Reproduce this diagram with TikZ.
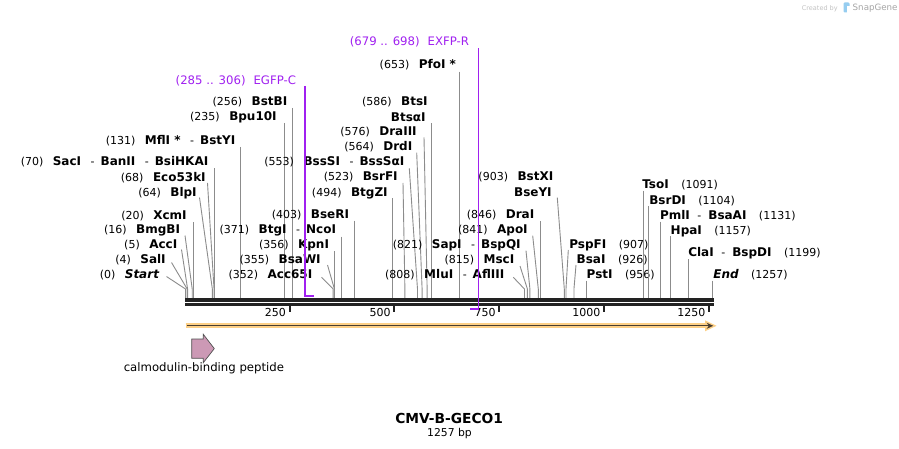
\documentclass[tikz,border=0pt]{standalone}
\usepackage{fontspec}
\setmainfont{DejaVu Sans}
\usetikzlibrary{arrows.meta}
\definecolor{cutc}{RGB}{140,140,140}
\definecolor{rulc}{RGB}{34,34,34}
\definecolor{primc}{RGB}{160,32,240}
\definecolor{orc}{RGB}{253,208,135}
\definecolor{ordk}{RGB}{72,62,50}
\definecolor{featc}{RGB}{204,153,181}
\definecolor{featd}{RGB}{80,80,80}
\definecolor{wmc}{RGB}{195,195,195}
\definecolor{wmb}{RGB}{150,205,240}
\newcommand\X[1]{(185.5+0.4195*(#1))}
\newcommand\Nb[1]{{\fontsize{11}{13}\selectfont #1}}
\newcommand\Nm[1]{{\fontsize{12}{13}\selectfont\bfseries #1}}
\newcommand\gpL{\hspace{9.5pt}}
\newcommand\dsL{\hspace{9.5pt}\Nb{-}\hspace{6pt}}
\newcommand\gpR{\hspace{12.5pt}}
\newcommand\dsR{\hspace{7.5pt}\Nb{-}\hspace{7pt}}
\tikzset{
  lbl/.style={inner sep=0pt,outer sep=0pt,font=\fontsize{11}{13}\selectfont},
  cutln/.style={draw=cutc,line width=0.9pt},
  plbl/.style={inner sep=0pt,outer sep=0pt,text=primc,font=\fontsize{11.7}{13}\selectfont},
  pline/.style={draw=primc,line width=1.3pt},
  pbar/.style={draw=primc,line width=2.2pt},
  tickln/.style={draw=rulc,line width=2pt},
}
% left-side labels (text right aligned), vertical connector
\newcommand\cutLv[6]{%
  \node[lbl,anchor=mid east] (#1) at (#3,{#4+1.2}) {#2};
  \coordinate (#1-a) at ({\X{#6}},#5);
  \coordinate (#1-s) at ({\X{#6}},298.3);
  \draw[cutln] (#1-a) -- (#1-s);}
% left-side labels, slanted connector
\newcommand\cutLd[7]{%
  \node[lbl,anchor=mid east] (#1) at (#3,{#4+1.2}) {#2};
  \coordinate (#1-a) at (#5,#6);
  \coordinate (#1-b) at ({\X{#7}},289);
  \coordinate (#1-s) at ({\X{#7}},298.3);
  \draw[cutln] (#1-a) -- (#1-b) -- (#1-s);}
% right-side labels (text left aligned), vertical connector
\newcommand\cutRv[6]{%
  \node[lbl,anchor=mid west] (#1) at (#3,{#4+1.2}) {#2};
  \coordinate (#1-a) at ({\X{#6}},#5);
  \coordinate (#1-s) at ({\X{#6}},298.3);
  \draw[cutln] (#1-a) -- (#1-s);}
% right-side labels, slanted connector
\newcommand\cutRd[7]{%
  \node[lbl,anchor=mid west] (#1) at (#3,{#4+1.2}) {#2};
  \coordinate (#1-a) at (#5,#6);
  \coordinate (#1-b) at ({\X{#7}},289);
  \coordinate (#1-s) at ({\X{#7}},298.3);
  \draw[cutln] (#1-a) -- (#1-b) -- (#1-s);}
\begin{document}
\begin{tikzpicture}[x=1pt,y=-1pt]
\useasboundingbox[fill=white] (0,0) rectangle (899,449);

% ---- watermark
\node[inner sep=0pt,anchor=mid west,text=wmc,font=\fontsize{6.5}{8}\selectfont] (wm1) at (801.7,7.5) {Created by};
\fill[wmb,rounded corners=1.2pt] (843.5,2.5) rectangle (849.5,12.5);
\fill[white] (846.5,6.5) rectangle (849.6,12.6);
\node[inner sep=0pt,anchor=mid west,text=wmc!85!black,font=\fontsize{8.7}{10}\selectfont] (wm2) at (852.5,7.5) {SnapGene};

% ---- cut sites, left group
\cutLd{start}{\Nb{(0)}\gpL\Nm{\itshape Start}}{159}{275}{166.5}{276.5}{0}
\cutLd{sali}{\Nb{(4)}\gpL\Nm{SalI}}{165.7}{260}{171.5}{262.5}{4}
\cutLd{acci}{\Nb{(5)}\gpL\Nm{AccI}}{177.3}{245}{181.5}{249.5}{5}
\cutLd{bmgbi}{\Nb{(16)}\gpL\Nm{BmgBI}}{180}{230}{185}{235.5}{16}
\cutLv{xcmi}{\Nb{(20)}\gpL\Nm{XcmI}}{186.7}{215.7}{222}{20}
\cutLd{blpi}{\Nb{(64)}\gpL\Nm{BlpI}}{196.7}{192.7}{199.5}{197.5}{64}
\cutLd{eco}{\Nb{(68)}\gpL\Nm{Eco53kI}}{205.7}{177.3}{207.5}{183}{68}
\cutLv{saci}{\Nb{(70)}\gpL\Nm{SacI}\dsL\Nm{BanII}\dsL\Nm{BsiHKAI}}{208.3}{161.7}{168.5}{70}
\cutLv{mfli}{\Nb{(131)}\gpL\Nm{MflI *}\dsL\Nm{BstYI}}{235.3}{140.7}{147}{131}
\cutLv{bpu}{\Nb{(235)}\gpL\Nm{Bpu10I}}{276.7}{116.7}{123}{235}
\cutLv{bstbi}{\Nb{(256)}\gpL\Nm{BstBI}}{287.3}{101.7}{108}{256}
\cutLd{acc65}{\Nb{(352)}\gpL\Nm{Acc65I}}{312.3}{275}{321.5}{277.3}{352}
\cutLd{bsawi}{\Nb{(355)}\gpL\Nm{BsaWI}}{320.7}{260}{327.5}{265}{355}
\cutLv{kpni}{\Nb{(356)}\gpL\Nm{KpnI}}{329}{245}{251}{356}
\cutLv{btgi}{\Nb{(371)}\gpL\Nm{BtgI}\dsL\Nm{NcoI}}{336}{230}{236.5}{371}
\cutLv{bseri}{\Nb{(403)}\gpL\Nm{BseRI}}{349}{214.3}{220.5}{403}
\cutLv{btgzi}{\Nb{(494)}\gpL\Nm{BtgZI}}{387.7}{192.3}{198.3}{494}
\cutLd{bsrfi}{\Nb{(523)}\gpL\Nm{BsrFI}}{397.7}{176.7}{403}{183}{523}
\cutLd{bsssi}{\Nb{(553)}\gpL\Nm{BssSI}\dsL\Nm{BssSαI}}{404.3}{161.7}{409.3}{168.3}{553}
\cutLd{drdi}{\Nb{(564)}\gpL\Nm{DrdI}}{412.3}{146.7}{416.7}{152.7}{564}
\cutLd{draiii}{\Nb{(576)}\gpL\Nm{DraIII}}{416.7}{131.7}{424}{137.3}{576}
\node[lbl,anchor=mid east] (btsi) at (427.7,102.9) {\Nb{(586)}\gpL\Nm{BtsI}};
\cutLv{btsai}{\Nm{BtsαI}}{425.7}{117.3}{123.3}{586}
\cutLv{pfoi}{\Nb{(653)}\gpL\Nm{PfoI *}}{456}{64.3}{71.7}{653}
\cutLd{mlui}{\Nb{(808)}\gpL\Nm{MluI}\dsL\Nm{AflIII}}{504.3}{275}{513.3}{277.3}{808}
\cutLd{msci}{\Nb{(815)}\gpL\Nm{MscI}}{514.3}{260}{520}{266}{815}
\cutLd{sapi}{\Nb{(821)}\gpL\Nm{SapI}\dsL\Nm{BspQI}}{520.7}{245}{526}{250.7}{821}
\cutLd{apoi}{\Nb{(841)}\gpL\Nm{ApoI}}{527.7}{230}{532.7}{235.7}{841}
\cutLv{drai}{\Nb{(846)}\gpL\Nm{DraI}}{534.3}{214.3}{221}{846}
\node[lbl,anchor=mid east] (bstxi) at (553.3,177.9) {\Nb{(903)}\gpL\Nm{BstXI}};
\cutLd{bseyi}{\Nm{BseYI}}{551.7}{192.3}{557.3}{197.7}{903}

% ---- cut sites, right group
\cutRd{pspfi}{\Nm{PspFI}\gpR\Nb{(907)}}{569.3}{245}{568.3}{250}{907}
\cutRd{bsai}{\Nm{BsaI}\gpR\Nb{(926)}}{576.7}{259.3}{576}{265}{926}
\cutRv{psti}{\Nm{PstI}\gpR\Nb{(956)}}{586.7}{275}{280.7}{956}
\cutRv{tsoi}{\Nm{TsoI}\gpR\Nb{(1091)}}{642.3}{185}{190.7}{1091}
\cutRv{bsrdi}{\Nm{BsrDI}\gpR\Nb{(1104)}}{649.3}{200.7}{206}{1104}
\cutRv{pmli}{\Nm{PmlI}\dsR\Nm{BsaAI}\gpR\Nb{(1131)}}{660}{215.7}{221.7}{1131}
\cutRv{hpai}{\Nm{HpaI}\gpR\Nb{(1157)}}{670.7}{230.7}{236}{1157}
\cutRv{clai}{\Nm{ClaI}\dsR\Nm{BspDI}\gpR\Nb{(1199)}}{688.3}{252.3}{259}{1199}
\cutRv{endsite}{\Nm{\itshape End}\gpR\Nb{(1257)}}{713.3}{275}{280.7}{1257}

% ---- ruler
\coordinate (r0) at (185,300);
\coordinate (r1) at (713.8,300);
\coordinate (q0) at (185,304.5);
\coordinate (q1) at (713.8,304.5);
\draw[rulc,line width=3.4pt] (r0) -- (r1);
\draw[rulc,line width=2.4pt] (q0) -- (q1);
\foreach \k in {250,500,750,1000,1250}{
  \draw[tickln] ({\X{\k}-0.8},304) -- ({\X{\k}-0.8},312.3);
  \node[lbl,anchor=mid east] (t\k) at ({\X{\k}-4.6},313.6) {\k};
}

% ---- primers
\node[plbl,anchor=mid east] (egfpc) at (296,81.4) {(285 .. 306)\hspace{8pt}EGFP-C};
\coordinate (egfpc-a) at ({\X{285}},86);
\coordinate (egfpc-b) at ({\X{285}},296.2);
\coordinate (egfpc-c) at ({\X{306}},296.2);
\draw[pline] (egfpc-a) -- (egfpc-b);
\draw[pbar] ([xshift=-0.65pt]egfpc-b) -- (egfpc-c);

\node[plbl,anchor=mid east] (exfpr) at (469,42.9) {(679 .. 698)\hspace{8pt}EXFP-R};
\coordinate (exfpr-a) at ({\X{698}},48.3);
\coordinate (exfpr-b) at ({\X{698}},309.2);
\coordinate (exfpr-c) at ({\X{679}},309.2);
\draw[pline] (exfpr-a) -- (exfpr-b);
\draw[pbar] ([xshift=0.65pt]exfpr-b) -- (exfpr-c);

% ---- full-length orange feature
\coordinate (o0) at (185.5,325.8);
\coordinate (o1) at (709,325.8);
\draw[orc,line width=5pt] (o0) -- (o1);
\fill[orc] (705,320.3) -- (716.5,325.8) -- (705,331.3) -- cycle;
\coordinate (d0) at (186.5,325.8);
\coordinate (d1) at (713.2,325.8);
\draw[ordk,line width=1.3pt,-{Stealth[length=6.5pt,width=6pt]}] (d0) -- (d1);

% ---- calmodulin-binding peptide feature
\draw[featd,fill=featc,line width=0.7pt,line join=miter]
  (191.7,339) -- (203.3,339) -- (203.3,334.3) -- (214.3,348.6) -- (203.3,362.7) -- (203.3,358.3) -- (191.7,358.3) -- cycle;
\node[inner sep=0pt,font=\fontsize{11.7}{13}\selectfont] (cbp) at (203.9,368.3) {calmodulin-binding peptide};

% ---- title
\node[inner sep=0pt,font=\fontsize{13.8}{16}\selectfont\bfseries] (title) at (449.2,418.3) {CMV-B-GECO1};
\node[inner sep=0pt,font=\fontsize{10.8}{13}\selectfont] (len) at (449.5,433.6) {1257 bp};
\end{tikzpicture}
\end{document}
